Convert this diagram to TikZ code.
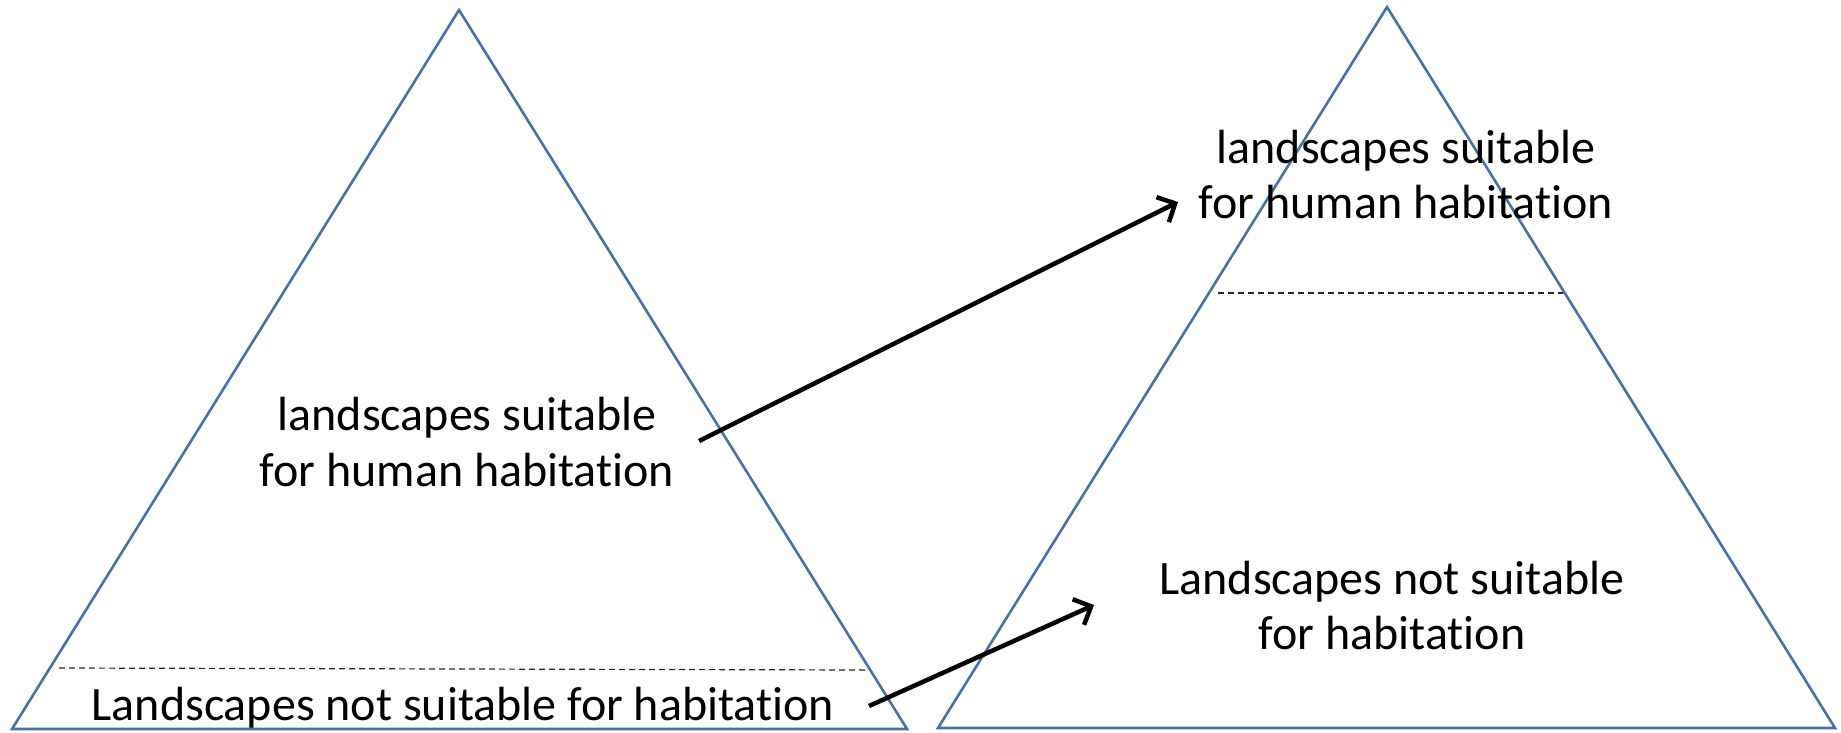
\documentclass[tikz,border=0pt]{standalone}
\usepackage{fontspec}
\setmainfont{Carlito}[Ligatures={NoCommon}]
\usetikzlibrary{arrows.meta}
\definecolor{triblue}{HTML}{4572A7}
\tikzset{
  tri/.style={draw=triblue, line width=2.6pt, line join=miter},
  sep/.style={draw=black!85, line width=1.2pt, dash pattern=on 6pt off 4pt},
  lbl/.style={font=\fontsize{48}{55}\selectfont, align=center, inner sep=0pt},
  arr/.style={draw=black, line width=4.5pt, -{Straight Barb[length=14pt, width=28pt, line width=4.5pt]}}
}
\begin{document}
\begin{tikzpicture}[x=1pt,y=-1pt]
\useasboundingbox (0,0) rectangle (1841,732);
% left triangle
\coordinate (LA) at (459,10);
\coordinate (LB) at (12,729);
\coordinate (LC) at (907,729);
\draw[tri] (LA) -- (LB) -- (LC) -- cycle;
\coordinate (LD1) at (59,668);
\coordinate (LD2) at (868,670);
\draw[sep] (LD1) -- (LD2);
% right triangle
\coordinate (RA) at (1387,7);
\coordinate (RB) at (938,728);
\coordinate (RC) at (1835,728);
\draw[tri] (RA) -- (RB) -- (RC) -- cycle;
\coordinate (RD1) at (1218,293);
\coordinate (RD2) at (1563,293);
\draw[sep] (RD1) -- (RD2);
% texts
\node[lbl] (lsuit) at (467,442) {landscapes suitable\\for human habitation};
\node[lbl] (lnot) at (463,708) {Landscapes not suitable for habitation};
\node[lbl] (rsuit) at (1406,175) {landscapes suitable\\for human habitation};
\node[lbl] (rnot) at (1392,605) {Landscapes not suitable\\for habitation};
% arrows
\coordinate (a1s) at (699,441);
\coordinate (a1e) at (1178,202);
\coordinate (a2s) at (869,706);
\coordinate (a2e) at (1094,605);
\draw[arr] (a1s) -- (a1e);
\draw[arr] (a2s) -- (a2e);
\end{tikzpicture}
\end{document}
